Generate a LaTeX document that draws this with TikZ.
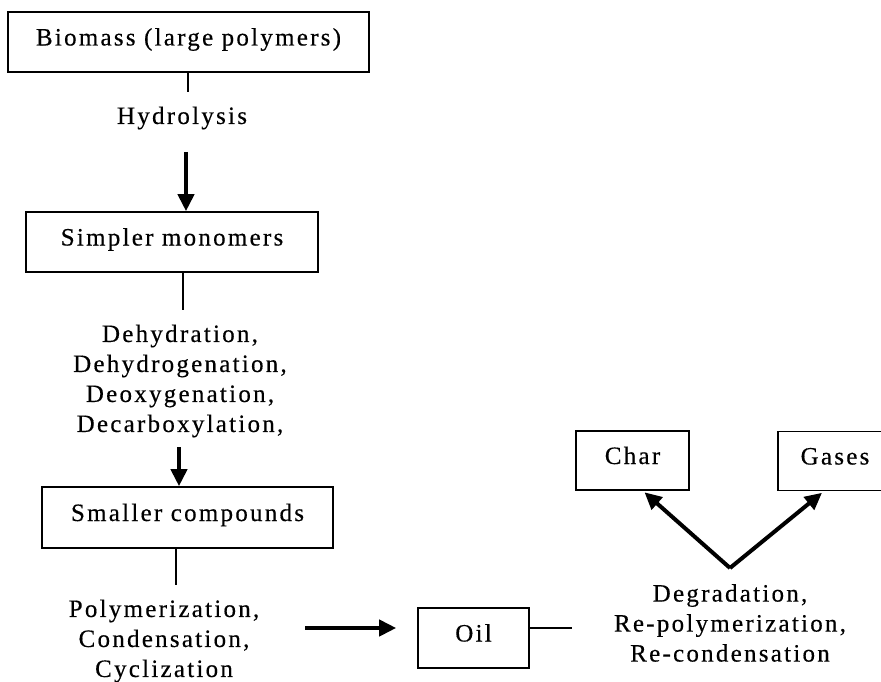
\documentclass[tikz,border=0pt]{standalone}
\usepackage{fontspec}
\setmainfont{Liberation Serif}[LetterSpace=9,FakeBold=0.4]
\usetikzlibrary{arrows.meta}
\begin{document}
\begin{tikzpicture}[x=1pt,y=-1pt,
  every node/.style={font=\fontsize{25}{30}\selectfont},
  box/.style={draw,line width=1.6pt,inner sep=0pt,text height=17pt,text depth=10pt},
  lbl/.style={align=center,inner sep=0pt},
  thinline/.style={line width=1.2pt},
  bigarrow/.style={line width=4pt,-{Triangle[length=17pt,width=16pt]}}]
\useasboundingbox (0,0) rectangle (881,682);
% boxes
\node[box,minimum width=361pt,minimum height=60pt] (bio) at (188.5,42) {Biomass (large polymers)};
\node[box,minimum width=292pt,minimum height=60pt] (simp) at (172,242) {Simpler monomers};
\node[box,minimum width=291pt,minimum height=61pt] (small) at (187.5,517.5) {Smaller compounds};
\node[box,minimum width=111pt,minimum height=60pt] (oil) at (473.5,638) {Oil};
\node[box,minimum width=113pt,minimum height=59pt] (char) at (632.5,460.5) {Char};
\node[box,minimum width=114pt,minimum height=59pt] (gas) at (835,461) {Gases};
% labels
\node[lbl] (hyd) at (182,118) {Hydrolysis};
\node[lbl] (dehyd) at (180,381) {Dehydration,\\Dehydrogenation,\\Deoxygenation,\\Decarboxylation,};
\node[lbl] (poly) at (164,641) {Polymerization,\\Condensation,\\Cyclization};
\node[lbl] (degr) at (730,623) {Degradation,\\Re-polymerization,\\Re-condensation};
% connector ends
\coordinate (t1) at (188,92);
\coordinate (a1) at (186,152);
\coordinate (t2) at (183,310);
\coordinate (a2) at (179,447);
\coordinate (t3) at (176,585);
\coordinate (a3) at (305,628);
\coordinate (t4) at (572,628);
\coordinate (v) at (730,568);
% thin connectors
\draw[thinline] (bio.south -| t1) -- (t1);
\draw[thinline] (simp.south -| t2) -- (t2);
\draw[thinline] (small.south -| t3) -- (t3);
\draw[thinline] (t4 -| oil.east) -- (t4);
% thick arrows
\draw[bigarrow] (a1) -- (a1 |- simp.north);
\draw[bigarrow] (a2) -- (a2 |- small.north);
\draw[bigarrow] (a3) -- ([xshift=-21pt]a3 -| oil.west);
\draw[bigarrow] (v) -- ([xshift=12pt,yshift=-1.5pt]char.south);
\draw[bigarrow] (v) -- ([xshift=-13pt,yshift=-1.5pt]gas.south);
\end{tikzpicture}
\end{document}
